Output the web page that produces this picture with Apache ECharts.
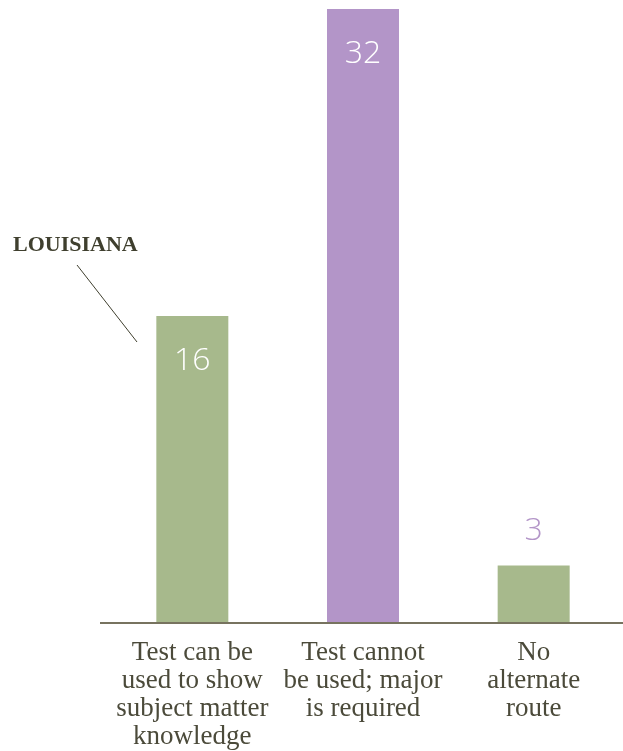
<!DOCTYPE html>
<html>
<head>
<meta charset="utf-8">
<script src="https://cdn.jsdelivr.net/npm/echarts@6/dist/echarts.min.js"></script>
<style>
  html, body { margin: 0; padding: 0; background: #fff; }
  #chart { width: 623px; height: 751px; }
</style>
</head>
<body>
<div id="chart"></div>
<script>
const categories = [
  'Test can be\nused to show\nsubject matter\nknowledge',
  'Test cannot\nbe used; major\nis required',
  'No\nalternate\nroute',
];
const values = [16, 32, 3];
const barColors = ['#a7b98c', '#b395c8', '#a7b98c'];
const labelInside = [true, true, false];

const serif = 'Liberation Serif';

const chart = echarts.init(document.getElementById('chart'));

const option = {
  animation: false,
  grid: { left: 107, right: 4, top: 9, bottom: 128 },
  xAxis: {
    type: 'category',
    data: categories,
    axisLine: { show: false },
    axisTick: { show: false },
    axisLabel: {
      interval: 0,
      margin: 16,
      color: '#4b4a3a',
      fontFamily: serif,
      fontSize: 27,
      lineHeight: 28,
    },
  },
  yAxis: {
    type: 'value',
    min: 0,
    max: 32,
    show: false,
  },
  series: [{
    type: 'bar',
    barWidth: 72,
    data: values.map((v, i) => ({
      value: v,
      itemStyle: { color: barColors[i] },
      label: labelInside[i]
        ? { position: 'insideTop', distance: 29, color: '#ffffff' }
        : { position: 'top', distance: 19, color: '#b395c8' },
    })),
    label: {
      show: true,
      fontFamily: 'Open Sans',
      fontWeight: 300,
      fontSize: 32,
    },
  }],
  graphic: [
    // baseline runs the full width, a bit past the bars
    {
      type: 'line',
      shape: { x1: 100, y1: 623, x2: 623, y2: 623 },
      style: { stroke: '#77735f', lineWidth: 2 },
      z: 10,
    },
    {
      type: 'text',
      x: 13,
      y: 245,
      style: {
        text: 'LOUISIANA',
        fill: '#3f3f2e',
        font: 'bold 22px "Liberation Serif"',
        verticalAlign: 'middle',
      },
    },
    {
      type: 'line',
      shape: { x1: 77, y1: 265, x2: 137, y2: 342 },
      style: { stroke: '#3f3f2e', lineWidth: 1 },
    },
  ],
};

chart.setOption(option);
</script>
</body>
</html>
